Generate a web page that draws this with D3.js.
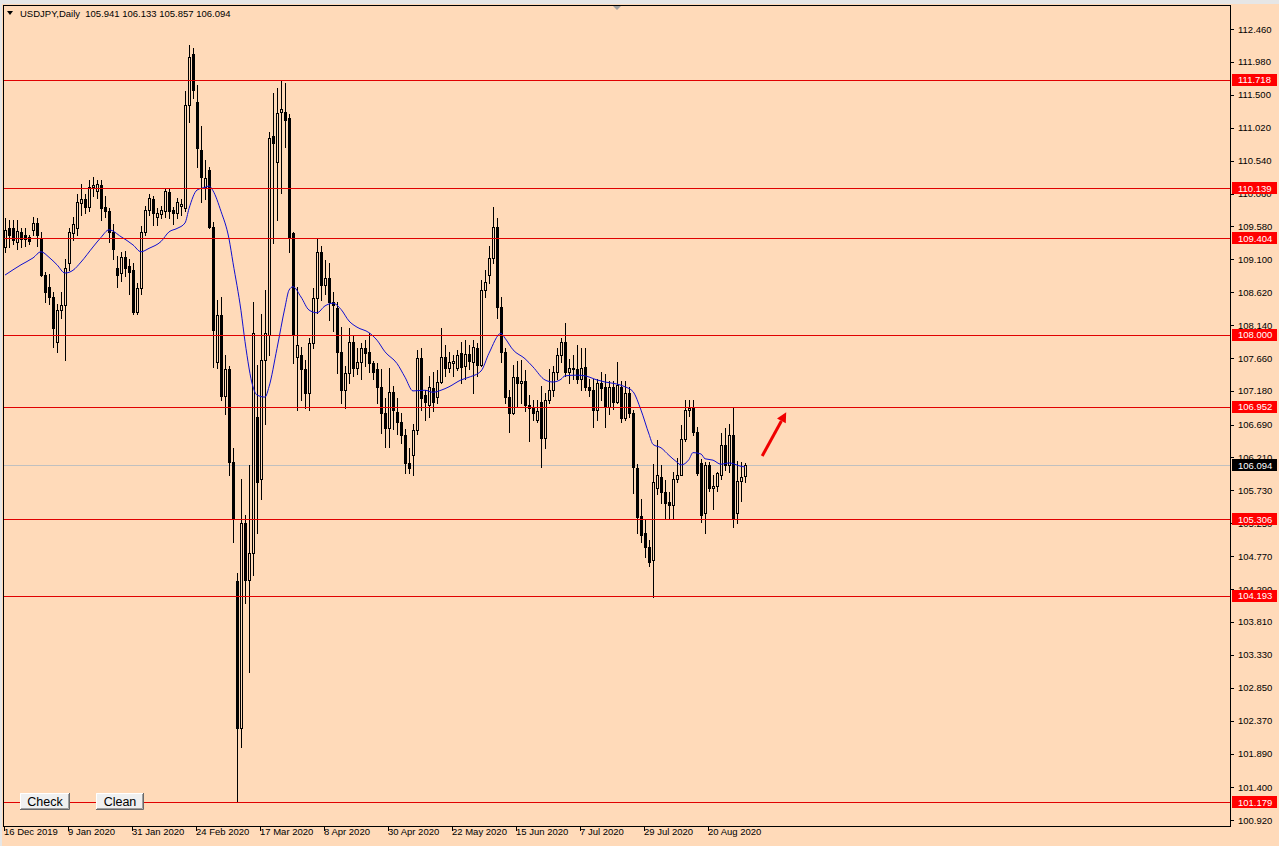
<!DOCTYPE html>
<html><head><meta charset="utf-8">
<script src="https://cdn.jsdelivr.net/npm/d3@7"></script>
<style>
html,body{margin:0;padding:0;background:#FFDAB9;overflow:hidden}
svg{display:block}
text{font-family:"Liberation Sans",Arial,sans-serif}
</style></head><body>
<svg id="c" width="1279" height="846"></svg>
<script>
// ---------------- DATA ----------------
const opens = [109.28,109.55,109.56,109.35,109.50,109.46,109.42,109.53,109.63,109.41,108.87,108.70,108.55,107.89,108.36,108.43,109.05,109.48,109.55,109.92,
109.98,109.86,110.15,110.10,110.18,109.86,109.80,109.50,108.97,108.90,109.13,109.00,108.95,108.33,108.68,109.50,109.82,109.98,109.72,109.76,
109.80,110.08,109.82,109.78,109.88,109.85,111.35,112.10,111.39,110.70,110.15,110.40,109.57,107.60,108.29,107.10,107.50,106.14,104.40,102.26,
105.25,104.42,104.82,106.80,105.90,107.63,108.00,110.90,110.52,111.25,111.25,111.16,109.48,107.67,107.70,107.50,107.15,107.88,108.54,109.21,
108.72,108.83,108.48,108.39,107.75,107.19,107.44,107.90,107.52,107.60,107.80,107.75,107.58,107.50,107.24,106.86,106.64,107.16,106.87,106.73,
106.54,106.13,106.24,106.61,107.66,107.12,106.98,107.22,107.09,107.31,107.67,107.51,107.58,107.52,107.73,107.55,107.72,107.60,107.80,107.56,
108.65,108.87,109.12,109.57,108.40,107.75,107.09,106.86,107.38,107.30,107.33,106.98,106.95,106.75,107.02,106.49,107.05,107.20,107.45,107.70,
107.90,107.46,107.50,107.50,107.35,107.53,107.24,107.20,106.90,107.30,107.24,106.95,107.24,107.02,107.24,106.78,107.15,106.86,106.05,105.35,
105.10,104.90,104.71,105.76,105.93,105.70,105.56,105.52,105.90,105.95,106.48,106.90,106.93,106.58,106.13,105.40,106.10,105.77,105.80,105.95,
106.39,106.10,106.54,105.40,105.87,105.941];
const highs = [109.70,109.67,109.68,109.67,109.55,109.55,109.46,109.72,109.70,109.50,108.92,108.88,108.62,108.45,108.62,109.10,109.55,109.72,110.05,110.20,
110.05,110.25,110.30,110.25,110.25,110.02,109.85,109.62,109.15,109.20,109.22,109.10,109.05,108.75,109.58,109.88,110.05,110.02,109.85,109.88,
110.14,110.12,109.86,110.00,109.98,111.55,112.23,112.18,111.65,111.04,110.55,110.45,109.65,108.50,108.55,107.70,107.55,106.35,104.52,105.90,
105.37,106.10,108.48,107.56,108.30,108.65,110.96,111.53,111.60,111.72,111.67,111.22,109.50,108.70,107.82,107.63,107.95,108.68,109.41,109.30,
109.09,109.05,108.62,108.48,108.11,107.55,108.10,107.98,107.80,107.88,107.92,108.02,107.62,107.58,107.50,107.08,107.51,107.25,107.08,106.86,
106.62,106.35,106.70,107.78,107.80,107.20,107.40,107.45,107.48,108.10,107.85,107.75,107.70,107.78,107.90,107.92,107.85,107.92,107.88,108.80,
108.95,109.30,109.86,109.70,108.55,107.80,107.20,107.56,107.62,107.63,107.48,107.12,107.05,107.05,107.25,107.15,107.50,107.55,107.80,107.95,
108.17,107.65,107.70,107.85,107.80,107.80,107.35,107.35,107.35,107.45,107.42,107.32,107.32,107.60,107.32,107.32,107.24,106.90,106.12,105.60,
105.29,105.00,106.12,106.46,106.10,105.88,105.70,106.00,106.20,106.68,107.05,107.05,107.05,106.65,106.18,106.15,106.15,105.95,106.00,106.56,
106.64,106.70,106.95,106.16,106.14,106.133];
const lows = [109.20,109.28,109.33,109.25,109.28,109.30,109.33,109.45,109.30,108.85,108.48,108.45,107.82,107.75,108.25,107.63,108.95,109.38,109.45,109.75,
109.78,109.80,110.02,110.00,109.68,109.72,109.35,109.10,108.70,108.78,108.85,108.60,108.30,108.30,108.60,109.45,109.75,109.60,109.60,109.70,
109.72,109.70,109.62,109.70,109.75,109.80,111.10,111.45,110.45,109.93,109.98,109.55,107.53,107.52,107.05,106.85,105.95,104.97,101.18,101.98,
104.08,103.08,104.50,105.10,105.60,106.70,107.70,109.34,109.67,110.07,110.74,109.20,107.59,106.90,107.05,106.93,106.90,107.80,108.32,108.50,
108.60,108.22,108.05,107.44,107.00,106.93,107.30,107.40,107.42,107.35,107.55,107.45,107.35,107.00,106.57,106.36,106.36,106.62,106.55,106.42,
105.98,105.98,105.95,106.55,106.90,106.76,106.80,106.88,107.00,107.30,107.40,107.45,107.40,107.48,107.30,107.35,107.50,107.15,107.40,107.55,
108.55,108.75,109.05,108.25,107.60,107.00,106.58,106.85,106.96,107.00,106.88,106.45,106.75,106.72,106.07,106.35,107.00,107.10,107.35,107.60,
107.40,107.30,107.35,107.30,107.20,107.20,107.10,106.65,106.75,107.05,106.66,106.85,106.92,107.00,106.72,106.75,106.80,105.69,105.11,104.98,
104.76,104.63,104.18,105.68,105.55,105.33,105.33,105.33,105.85,105.95,106.45,106.82,106.53,105.96,105.27,105.10,105.72,105.45,105.72,105.90,
106.03,106.00,105.20,105.25,105.57,105.857];
const closes = [109.53,109.46,109.38,109.52,109.40,109.40,109.36,109.63,109.46,108.87,108.62,108.55,108.10,108.36,108.43,108.97,109.50,109.62,109.94,109.98,
109.86,110.15,110.18,110.20,109.85,109.80,109.50,109.25,108.87,109.13,108.98,108.92,108.33,108.68,109.50,109.82,110.00,109.78,109.78,109.82,
110.10,109.80,109.78,109.93,109.90,111.35,112.05,111.57,110.72,110.30,110.28,109.57,108.07,108.29,107.10,107.50,106.14,105.33,102.26,105.25,
104.42,104.82,108.02,105.85,107.63,108.02,110.87,110.80,111.23,111.30,111.13,109.41,107.99,107.85,107.50,107.15,107.88,108.53,109.21,108.72,
108.83,108.48,108.44,107.75,107.19,107.44,107.90,107.52,107.60,107.80,107.73,107.58,107.45,107.24,106.86,106.64,107.16,106.90,106.73,106.54,
106.13,106.05,106.61,107.66,107.08,107.02,107.24,107.02,107.31,107.67,107.51,107.60,107.62,107.70,107.53,107.72,107.62,107.82,107.56,108.65,
108.77,109.12,109.57,108.40,107.75,107.09,106.86,107.38,107.30,107.33,106.97,106.93,106.86,106.88,106.49,107.05,107.20,107.45,107.70,107.90,
107.46,107.51,107.52,107.35,107.52,107.24,107.20,106.90,107.30,107.22,106.95,107.24,107.02,107.26,106.78,107.15,106.86,106.07,105.34,105.08,
104.90,104.68,105.85,105.95,105.70,105.55,105.52,105.90,105.95,106.48,106.90,106.93,106.58,105.98,105.37,106.10,105.77,105.80,105.98,106.39,
106.10,106.54,105.33,105.87,105.93,106.094];

// moving average line, read at these bar positions
const maBars = [0,4,7,9,11,13,15,17,19,22,24,26,29,32,34,36,39,41,43,45,46,48,50,51,52,54,56,57,59,60,62,63,65,66,68,70,71,72,74,76,78,80,82,84,86,88,91,93,95,98,
100,102,105,107,109,111,114,116,119,121,124,125,127,130,132,135,137,139,140,143,145,148,150,153,155,157,159,161,162,164,166,168,169,171,172,174,175,177,179,181,184,185];
const maValues = [108.87,109.02,109.12,109.21,109.13,109.02,108.90,108.94,109.06,109.28,109.42,109.53,109.43,109.31,109.21,109.26,109.36,109.50,109.55,109.63,
109.84,110.11,110.15,110.17,110.10,109.80,109.40,109.05,108.35,107.90,107.24,107.12,107.09,107.24,107.80,108.40,108.65,108.70,108.55,108.36,
108.32,108.42,108.46,108.37,108.20,108.11,108.03,107.92,107.75,107.58,107.38,107.18,107.19,107.16,107.19,107.24,107.34,107.38,107.47,107.73,
108.02,107.95,107.78,107.65,107.53,107.34,107.31,107.35,107.40,107.41,107.40,107.34,107.31,107.28,107.24,107.17,106.90,106.55,106.40,106.35,
106.24,106.14,106.10,106.18,106.28,106.26,106.19,106.17,106.11,106.13,106.08,106.07];

const priceTicks = ["112.460","111.980","111.500","111.020","110.540","110.060","109.580","109.100","108.620","108.140","107.660","107.180","106.690",
"106.210","105.730","105.250","104.770","104.290","103.810","103.330","102.850","102.370","101.890","101.400","100.920"];
const levelLines = [111.718,110.139,109.404,108.000,106.952,105.306,104.193,101.179];
const currentPrice = 106.094;
const dateTickBars = [0,16,32,48,64,80,96,112,128,144,160,176];
const dateTickLabels = ["16 Dec 2019","9 Jan 2020","31 Jan 2020","24 Feb 2020","17 Mar 2020","8 Apr 2020","30 Apr 2020","22 May 2020","15 Jun 2020","7 Jul 2020","29 Jul 2020","20 Aug 2020"];
const headerSymbol = "USDJPY,Daily";
const headerValues = ["105.941","106.133","105.857","106.094"];
const arrowBars = [189.3, 195.3];
const arrowPrices = [106.23, 106.87];
const buttonLabels = ["Check","Clean"];

// ---------------- CHART ----------------
const W = 1279, H = 846;
const BG = "#FFDAB9";
const frame = {left:3, top:5, right:1230, bottom:826};
const svg = d3.select("#c");

const x = d3.scaleLinear().domain([0, 185]).range([5, 745]);
const y = d3.scaleLinear().domain([100.92, 112.46]).range([820, 29]);

svg.append("rect").attr("width", W).attr("height", H).attr("fill", BG);
svg.append("rect").attr("x",0).attr("y",0).attr("width",W).attr("height",4).attr("fill","#E6E6E6");
svg.append("rect").attr("x",0).attr("y",0).attr("width",2).attr("height",H).attr("fill","#E6E6E6");

// bid line (background)
svg.append("line")
  .attr("x1", frame.left).attr("x2", frame.right)
  .attr("y1", Math.round(y(currentPrice)) + 0.5).attr("y2", Math.round(y(currentPrice)) + 0.5)
  .attr("stroke", "#C0C0C0").attr("stroke-width", 1);

// candles
const bars = d3.range(opens.length).map(i => ({i, o:opens[i], h:highs[i], l:lows[i], c:closes[i]}));
const cg = svg.append("g");
cg.selectAll("line.wick").data(bars).join("line")
  .attr("class","wick")
  .attr("x1", d => Math.round(x(d.i)) + 0.5).attr("x2", d => Math.round(x(d.i)) + 0.5)
  .attr("y1", d => Math.round(y(d.h))).attr("y2", d => Math.round(y(d.l)) + 1)
  .attr("stroke", "#000").attr("stroke-width", 1);
cg.selectAll("rect.body").data(bars).join("rect")
  .attr("class","body")
  .attr("x", d => Math.round(x(d.i)) - 0.5)
  .attr("width", 2)
  .attr("y", d => Math.round(y(Math.max(d.o, d.c))) + 0.5)
  .attr("height", d => Math.max(0.01, Math.round(y(Math.min(d.o, d.c))) - Math.round(y(Math.max(d.o, d.c)))))
  .attr("fill", d => d.c >= d.o ? BG : "#000")
  .attr("stroke", "#000").attr("stroke-width", 1);

// moving average
const maData = maBars.map((b, k) => [b, maValues[k]]);
svg.append("path")
  .datum(maData)
  .attr("d", d3.line().x(d => x(d[0])).y(d => y(d[1])).curve(d3.curveMonotoneX))
  .attr("fill", "none").attr("stroke", "#1010D0").attr("stroke-width", 1);

// horizontal levels
svg.selectAll("line.level").data(levelLines).join("line")
  .attr("class","level")
  .attr("x1", frame.left).attr("x2", frame.right)
  .attr("y1", d => Math.round(y(d)) + 0.5).attr("y2", d => Math.round(y(d)) + 0.5)
  .attr("stroke", "#E00000").attr("stroke-width", 1);

// arrow annotation
{
  const x1 = x(arrowBars[0]), y1 = y(arrowPrices[0]);
  const x2 = x(arrowBars[1]), y2 = y(arrowPrices[1]);
  const ang = Math.atan2(y2 - y1, x2 - x1);
  const L = 10, Wd = 5;
  const bx = x2 - L * Math.cos(ang), by = y2 - L * Math.sin(ang);
  svg.append("line").attr("x1", x1).attr("y1", y1).attr("x2", bx).attr("y2", by)
    .attr("stroke", "#F00000").attr("stroke-width", 3);
  const pts = [[x2, y2],
    [bx + Wd * Math.sin(ang), by - Wd * Math.cos(ang)],
    [bx - Wd * Math.sin(ang), by + Wd * Math.cos(ang)]];
  svg.append("polygon").attr("points", pts.map(p => p.join(",")).join(" ")).attr("fill", "#F00000");
}

// frame
const fr = svg.append("g").attr("stroke", "#000").attr("stroke-width", 1);
fr.append("line").attr("x1", frame.left + 0.5).attr("x2", frame.left + 0.5).attr("y1", frame.top).attr("y2", frame.bottom + 1);
fr.append("line").attr("x1", frame.left).attr("x2", frame.right + 1).attr("y1", frame.top + 0.5).attr("y2", frame.top + 0.5);
fr.append("line").attr("x1", frame.right + 0.5).attr("x2", frame.right + 0.5).attr("y1", frame.top).attr("y2", frame.bottom + 1);
fr.append("line").attr("x1", frame.left).attr("x2", frame.right + 1).attr("y1", frame.bottom + 0.5).attr("y2", frame.bottom + 0.5);

// top shift marker
svg.append("polygon").attr("points", "613,6 621,6 617,10").attr("fill", "#A0A0A0");

// price axis
const pa = svg.append("g");
pa.selectAll("line").data(priceTicks).join("line")
  .attr("x1", frame.right).attr("x2", frame.right + 4)
  .attr("y1", d => Math.round(y(+d)) + 0.5).attr("y2", d => Math.round(y(+d)) + 0.5)
  .attr("stroke", "#000");
pa.selectAll("text").data(priceTicks).join("text")
  .attr("x", 1238).attr("y", d => y(+d) + 3.5)
  .attr("font-size", "9.5px").attr("fill", "#000").text(d => d);

// level labels
const ll = svg.append("g");
ll.selectAll("rect").data(levelLines).join("rect")
  .attr("x", 1232).attr("y", d => Math.round(y(d)) - 6).attr("width", 45).attr("height", 12)
  .attr("fill", "#FF0000");
ll.selectAll("text").data(levelLines).join("text")
  .attr("x", 1238).attr("y", d => y(d) + 3.5)
  .attr("font-size", "9.5px").attr("fill", "#fff").text(d => d.toFixed(3));
svg.append("rect").attr("x", 1232).attr("y", Math.round(y(currentPrice)) - 6).attr("width", 45).attr("height", 12).attr("fill", "#000");
svg.append("text").attr("x", 1238).attr("y", y(currentPrice) + 3.5).attr("font-size", "9.5px").attr("fill", "#fff").text(currentPrice.toFixed(3));

// date axis
const da = svg.append("g");
da.selectAll("line").data(dateTickBars).join("line")
  .attr("x1", d => Math.round(x(d)) - 0.5).attr("x2", d => Math.round(x(d)) - 0.5)
  .attr("y1", frame.bottom + 1).attr("y2", frame.bottom + 5)
  .attr("stroke", "#000");
da.selectAll("text").data(dateTickBars).join("text")
  .attr("x", d => x(d) - 1).attr("y", 835)
  .attr("font-size", "9.5px").attr("fill", "#000")
  .text((d, k) => dateTickLabels[k]);

// header
svg.append("polygon").attr("points", "7,11 13,11 10,15").attr("fill", "#000");
svg.append("text").attr("x", 20).attr("y", 17).attr("font-size", "9.5px").attr("fill", "#000")
  .attr("xml:space", "preserve")
  .text(headerSymbol + "  " + headerValues.join(" "));

// buttons
const btnPos = [[20, 50], [96, 48]];
buttonLabels.forEach((lab, k) => {
  const [bx, bw] = btnPos[k], by = 793, bh = 17;
  const g = svg.append("g");
  g.append("rect").attr("x", bx).attr("y", by).attr("width", bw).attr("height", bh).attr("fill", "#F0F0F0");
  g.append("path").attr("d", `M${bx+0.5},${by+bh} V${by+0.5} H${bx+bw}`).attr("stroke", "#FFFFFF").attr("fill", "none");
  g.append("path").attr("d", `M${bx},${by+bh-0.5} H${bx+bw-0.5} V${by}`).attr("stroke", "#696969").attr("fill", "none");
  g.append("path").attr("d", `M${bx+1},${by+bh-1.5} H${bx+bw-1.5} V${by+1}`).attr("stroke", "#A0A0A0").attr("fill", "none");
  g.append("text").attr("x", bx + bw / 2).attr("y", by + 13).attr("text-anchor", "middle")
    .attr("font-size", "12.5px").attr("fill", "#000").text(lab);
});
</script>
</body></html>
